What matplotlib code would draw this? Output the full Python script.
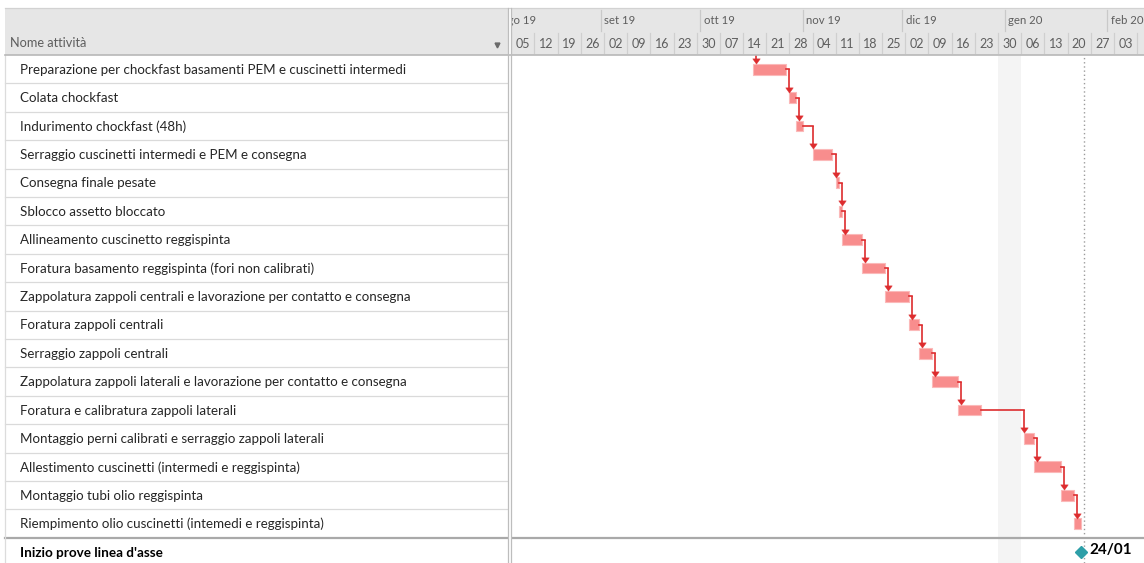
import matplotlib
matplotlib.use("Agg")
import matplotlib.pyplot as plt
import matplotlib.dates as mdates
from matplotlib.path import Path
from datetime import date, timedelta

# ---------------- data ----------------
tasks = [
    "Preparazione per chockfast basamenti PEM e cuscinetti intermedi",
    "Colata chockfast",
    "Indurimento chockfast (48h)",
    "Serraggio cuscinetti intermedi e PEM e consegna",
    "Consegna finale pesate",
    "Sblocco assetto bloccato",
    "Allineamento cuscinetto reggispinta",
    "Foratura basamento reggispinta (fori non calibrati)",
    "Zappolatura zappoli centrali e lavorazione per contatto e consegna",
    "Foratura zappoli centrali",
    "Serraggio zappoli centrali",
    "Zappolatura zappoli laterali e lavorazione per contatto e consegna",
    "Foratura e calibratura zappoli laterali",
    "Montaggio perni calibrati e serraggio zappoli laterali",
    "Allestimento cuscinetti (intermedi e reggispinta)",
    "Montaggio tubi olio reggispinta",
    "Riempimento olio cuscinetti (intemedi e reggispinta)",
]
starts = ["2019-10-17", "2019-10-28", "2019-10-30", "2019-11-04", "2019-11-11",
          "2019-11-12", "2019-11-13", "2019-11-19", "2019-11-26", "2019-12-03",
          "2019-12-06", "2019-12-10", "2019-12-18", "2020-01-07", "2020-01-10",
          "2020-01-18", "2020-01-22"]
ends = ["2019-10-27", "2019-10-30", "2019-11-01", "2019-11-10", "2019-11-12",
        "2019-11-13", "2019-11-19", "2019-11-26", "2019-12-03", "2019-12-06",
        "2019-12-10", "2019-12-18", "2019-12-25", "2020-01-10", "2020-01-18",
        "2020-01-22", "2020-01-24"]
milestone_name = "Inizio prove linea d'asse"
milestone_date = "2020-01-24"
milestone_label = "24/01"

month_labels = ["ago 19", "set 19", "ott 19", "nov 19", "dic 19", "gen 20", "feb 20"]
month_starts = ["2019-08-01", "2019-09-01", "2019-10-01", "2019-11-01",
                "2019-12-01", "2020-01-01", "2020-02-01"]
first_week = "2019-08-05"
n_weeks = 27
holiday = ("2019-12-30", "2020-01-06")
status_date = "2020-01-25"
header_title = "Nome attività"

# ---------------- style ----------------
FONT = ["Lato", "DejaVu Sans"]
plt.rcParams["font.family"] = FONT
BAR = "#F88D8D"
BAR_EDGE = "#FBB9B9"
LINK = "#DD2C2E"
HEAD_BG = "#E6E6E6"
GRID = "#DADADA"
TXT = "#262626"
HTXT = "#5E5E5E"

W, H = 1144, 563
HEAD_TOP, HEAD_BOT = 8, 55
SPLIT = 508
CHART_X0 = 511
ROW_H = 28.4
BAR_H = 0.38


def d(s):
    return mdates.date2num(date.fromisoformat(s))


y_top = -0.5
y_bot = y_top + (H - HEAD_BOT) / ROW_H

# time scale: 3.311 px per day, Monday 2 Sep 2019 sits at x = 604 px
px_day = 3.311
ref = d("2019-09-02")
x_lo = ref + (CHART_X0 - 604) / px_day
x_hi = ref + (W - 604) / px_day

fig = plt.figure(figsize=(W / 100, H / 100), dpi=100)
fig.patch.set_facecolor("white")

body_h = (H - HEAD_BOT) / H
head_h = (HEAD_BOT - HEAD_TOP) / H

# ---------------- table ----------------
ax_t = fig.add_axes([0, 0, SPLIT / W, body_h])
ax_t.set_xlim(0, SPLIT)
ax_t.set_ylim(y_bot, y_top)
ax_t.axis("off")
for i in range(len(tasks) - 1):
    ax_t.plot([5, SPLIT], [i + 0.5, i + 0.5], color=GRID, lw=0.9)
ax_t.plot([5, SPLIT], [len(tasks) - 0.5] * 2, color="#A9A9A9", lw=1.6)
ax_t.plot([5, 5], [y_top, y_bot], color="#DCDCDC", lw=0.9)
for i, name in enumerate(tasks):
    ax_t.text(20, i + 0.02, name, fontsize=9.6, color=TXT, va="center", ha="left")
ax_t.text(20, len(tasks) + 0.02, milestone_name, fontsize=9.7, color="black",
          fontweight="bold", va="center", ha="left")

# table header
ax_th = fig.add_axes([5 / W, body_h, (SPLIT - 5) / W, head_h])
ax_th.set_xlim(5, SPLIT)
ax_th.set_ylim(HEAD_BOT, HEAD_TOP)
ax_th.set_facecolor(HEAD_BG)
for s in ax_th.spines.values():
    s.set_visible(False)
ax_th.set_xticks([])
ax_th.set_yticks([])
ax_th.text(10, 43, header_title, fontsize=9.2, color=HTXT, va="center", ha="left")
ax_th.plot([497], [44.5], marker="v", ms=3.5, color="#6A6A6A")

# ---------------- gantt ----------------
ax = fig.add_axes([CHART_X0 / W, 0, (W - CHART_X0) / W, body_h])
ax.set_xlim(x_lo, x_hi)
ax.set_ylim(y_bot, y_top)
ax.axis("off")
ax.axvspan(d(holiday[0]), d(holiday[1]), color="#F4F4F4", zorder=0, lw=0)
ax.axvline(d(status_date), color="#9C9C9C", lw=1.0, ls=(0, (1, 2)), zorder=1)
ax.axhline(len(tasks) - 0.5, color="#A9A9A9", lw=1.6, zorder=1)

head_marker = Path([(-1, 0.7), (1, 0.7), (0, -0.7), (-1, 0.7)],
                   [Path.MOVETO, Path.LINETO, Path.LINETO, Path.CLOSEPOLY])
arrow_ms = 5.4
arrow_off = 2.6 / ROW_H

s_num = [d(s) for s in starts]
e_num = [d(e) for e in ends]

for i, (s, e) in enumerate(zip(s_num, e_num)):
    ax.barh(i, e - s, left=s, height=BAR_H, color=BAR, edgecolor=BAR_EDGE,
            lw=0.8, zorder=3)


def arrow_down(x, y0, y1):
    ax.plot([x, x], [y0, y1 - arrow_off], color=LINK, lw=1.2, zorder=4,
            solid_capstyle="butt")
    ax.plot([x], [y1 - arrow_off], marker=head_marker, ms=arrow_ms,
            color=LINK, mec=LINK, mew=0.3, zorder=5)


# incoming link to the first task
arrow_down(s_num[0] + 0.8, y_top, 0 - BAR_H / 2)

# finish-to-start links
for i in range(1, len(tasks)):
    xv = max(e_num[i - 1] + 0.9, s_num[i])
    ax.plot([e_num[i - 1], xv], [i - 1, i - 1], color=LINK, lw=1.2, zorder=4)
    arrow_down(xv, i - 1, i - BAR_H / 2)

# milestone
m = d(milestone_date)
ax.plot([m], [len(tasks)], marker="D", ms=6.5, color="#2E9FA8", zorder=5)
ax.annotate(milestone_label, (m, len(tasks)), xytext=(6.5, 1.5),
            textcoords="offset points", fontsize=11, fontweight="bold",
            color="black", va="center", ha="left")

# ---------------- timeline header ----------------
ax_h = fig.add_axes([CHART_X0 / W, body_h, (W - CHART_X0) / W, head_h],
                    sharex=ax)
ax_h.set_ylim(HEAD_BOT, HEAD_TOP)
ax_h.set_facecolor(HEAD_BG)
for sp in ax_h.spines.values():
    sp.set_visible(False)
ax_h.tick_params(left=False, bottom=False, labelleft=False, labelbottom=False)

for lab, ms_ in zip(month_labels, month_starts):
    x = d(ms_)
    ax_h.plot([x, x], [10, 31], color="#C9C9C9", lw=0.9)
    ax_h.text(x + 1.1, 20.5, lab, fontsize=8.2, color=HTXT, va="center",
              ha="left", clip_on=True)

w0 = date.fromisoformat(first_week)
for k in range(n_weeks + 1):
    wd = w0 + timedelta(days=7 * k)
    x = mdates.date2num(wd)
    ax_h.plot([x, x], [33, 53], color="#CFCFCF", lw=0.9)
    if k < n_weeks:
        ax_h.text(x + 3.5, 43.5, wd.strftime("%d"), fontsize=9.0, color=HTXT,
                  va="center", ha="center", clip_on=True)
ax.set_xlim(x_lo, x_hi)

# ---------------- frame lines ----------------
ov = fig.add_axes([0, 0, 1, 1], zorder=10)
ov.set_xlim(0, W)
ov.set_ylim(H, 0)
ov.axis("off")
ov.patch.set_alpha(0)
ov.plot([5, W], [HEAD_TOP - 0.5, HEAD_TOP - 0.5], color="#D2D2D2", lw=0.9)
ov.plot([5, W], [HEAD_BOT, HEAD_BOT], color="#B8B8B8", lw=1.2)
for xs in (507.5, 510.5):
    ov.plot([xs, xs], [HEAD_TOP, H], color="#BDBDBD", lw=0.9)

fig.savefig("out.png", dpi=100)
